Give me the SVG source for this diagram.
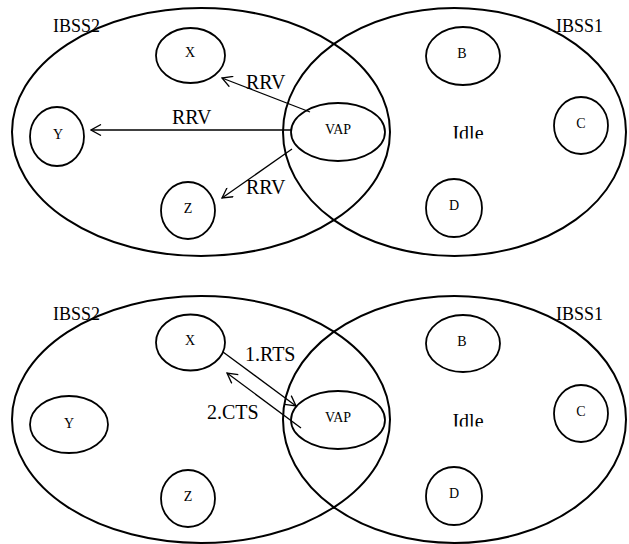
<svg xmlns="http://www.w3.org/2000/svg" width="629" height="544" viewBox="0 0 629 544">
  <style>
    .area { fill: none; stroke: #000; stroke-width: 2; }
    .node { fill: none; stroke: #000; stroke-width: 1.8; }
    .lbl { font-family: "Liberation Serif", "Times New Roman", serif; fill: #000; }
    .area-lbl { font-size: 18px; }
    .node-lbl { font-size: 14px; text-anchor: middle; }
    .msg { font-size: 20px; }
    .idle { font-size: 20px; text-anchor: middle; }
    .link { fill: none; stroke: #000; stroke-width: 1.3; }
  </style>
  <defs>
    <marker id="open" viewBox="0 0 12 12" refX="11" refY="6" markerWidth="12" markerHeight="12" markerUnits="userSpaceOnUse" orient="auto">
      <path d="M1,0.5 L11,6 L1,11.5" fill="none" stroke="#000" stroke-width="1.3"/>
    </marker>
    <clipPath id="cut-top"><rect x="0" y="0" width="629" height="138.5"/></clipPath>
    <clipPath id="cut-bottom"><rect x="0" y="287" width="629" height="139.5"/></clipPath>
  </defs>
  <rect width="629" height="544" fill="#fff"/>

  <!-- Upper scene: VAP broadcasts RRV -->
  <g id="top-ibss2"><ellipse class="area" cx="201" cy="132" rx="189" ry="124"/><text class="lbl area-lbl" x="53" y="32">IBSS2</text></g>
  <g id="top-ibss1"><ellipse class="area" cx="454.5" cy="132" rx="171.5" ry="124"/><text class="lbl area-lbl" x="556" y="32">IBSS1</text></g>
  <g id="top-x"><ellipse class="node" cx="190.5" cy="55.5" rx="34.5" ry="27.5"/><text class="lbl node-lbl" x="190" y="57">X</text></g>
  <g id="top-y"><ellipse class="node" cx="57" cy="136.5" rx="27" ry="29.5"/><text class="lbl node-lbl" x="58" y="139">Y</text></g>
  <g id="top-z"><ellipse class="node" cx="188" cy="210.5" rx="27" ry="28.5"/><text class="lbl node-lbl" x="188" y="213">Z</text></g>
  <g id="top-vap"><ellipse class="node" cx="338" cy="132" rx="47" ry="29"/><text class="lbl node-lbl" x="338" y="134">VAP</text></g>
  <g id="top-b"><ellipse class="node" cx="463" cy="56" rx="37" ry="29"/><text class="lbl node-lbl" x="462" y="58">B</text></g>
  <g id="top-c"><ellipse class="node" cx="581" cy="125.5" rx="27" ry="28.5"/><text class="lbl node-lbl" x="581" y="128">C</text></g>
  <g id="top-d"><ellipse class="node" cx="454" cy="208" rx="28" ry="29"/><text class="lbl node-lbl" x="454" y="210">D</text></g>
  <text class="lbl idle" x="468" y="140" clip-path="url(#cut-top)">Idle</text>

  <!-- Lower scene: RTS/CTS exchange between X and VAP -->
  <g id="bot-ibss2"><ellipse class="area" cx="201" cy="419.5" rx="189" ry="123.5"/><text class="lbl area-lbl" x="53" y="320">IBSS2</text></g>
  <g id="bot-ibss1"><ellipse class="area" cx="454.5" cy="419.5" rx="171.5" ry="123.5"/><text class="lbl area-lbl" x="556" y="320">IBSS1</text></g>
  <g id="bot-x"><ellipse class="node" cx="190.5" cy="342.5" rx="34.5" ry="28"/><text class="lbl node-lbl" x="190" y="345">X</text></g>
  <g id="bot-y"><ellipse class="node" cx="69" cy="424.5" rx="39" ry="28.5"/><text class="lbl node-lbl" x="69" y="428">Y</text></g>
  <g id="bot-z"><ellipse class="node" cx="188" cy="498.5" rx="27" ry="28.5"/><text class="lbl node-lbl" x="188" y="501">Z</text></g>
  <g id="bot-vap"><ellipse class="node" cx="338" cy="420" rx="47" ry="29"/><text class="lbl node-lbl" x="338" y="422">VAP</text></g>
  <g id="bot-b"><ellipse class="node" cx="463" cy="343.5" rx="37" ry="28.5"/><text class="lbl node-lbl" x="462" y="346">B</text></g>
  <g id="bot-c"><ellipse class="node" cx="581" cy="413.5" rx="27" ry="28.5"/><text class="lbl node-lbl" x="581" y="416">C</text></g>
  <g id="bot-d"><ellipse class="node" cx="454" cy="496" rx="28" ry="29"/><text class="lbl node-lbl" x="454" y="498">D</text></g>
  <text class="lbl idle" x="468" y="428" clip-path="url(#cut-bottom)">Idle</text>

  <g id="connectors">
    <line class="link" x1="291" y1="130" x2="91" y2="130" marker-end="url(#open)"/>
    <line class="link" x1="310" y1="112" x2="222" y2="78" marker-end="url(#open)"/>
    <line class="link" x1="292" y1="149" x2="222" y2="198" marker-end="url(#open)"/>
    <line class="link" x1="223" y1="352" x2="296" y2="406" marker-end="url(#open)"/>
    <line class="link" x1="301" y1="428" x2="227" y2="373" marker-end="url(#open)"/>
    <text class="lbl msg" x="246" y="89">RRV</text>
    <text class="lbl msg" x="172" y="124">RRV</text>
    <text class="lbl msg" x="246" y="194">RRV</text>
    <text class="lbl msg" x="245" y="361">1.RTS</text>
    <text class="lbl msg" x="207" y="419">2.CTS</text>
  </g>
</svg>
